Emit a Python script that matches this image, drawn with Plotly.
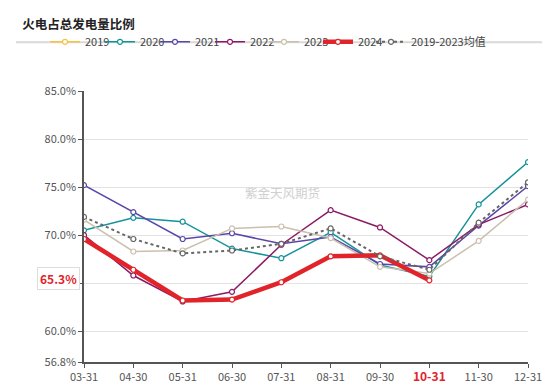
import plotly.graph_objects as go

dates = ["03-31", "04-30", "05-31", "06-30", "07-31", "08-31", "09-30", "10-31", "11-30", "12-31"]
y2019 = [None] * 10
y2020 = [70.5, 71.8, 71.4, 68.6, 67.6, 70.3, 66.9, 65.7, 73.2, 77.6]
y2021 = [75.2, 72.4, 69.6, 70.2, 69.1, 69.8, 67.0, 66.7, 71.0, 75.1]
y2022 = [70.0, 65.8, 63.1, 64.1, 69.0, 72.6, 70.8, 67.4, 71.1, 73.2]
y2023 = [71.6, 68.3, 68.4, 70.7, 70.9, 69.7, 66.7, 66.0, 69.4, 73.7]
y2024 = [69.6, 66.4, 63.2, 63.3, 65.1, 67.8, 67.9, 65.3]
yavg = [71.9, 69.6, 68.1, 68.4, 69.1, 70.7, 67.8, 66.4, 71.3, 75.5]
ytickvals = [56.8, 60, 65, 70, 75, 80, 85]
yticktext = ["56.8%", "60.0%", "65.0%", "70.0%", "75.0%", "80.0%", "85.0%"]
highlight_date = "10-31"
highlight_value = 65.3

fig = go.Figure()

PLOT_L, PLOT_W = 76, 444
legend_centers = [72, 127, 182, 237, 291, 345, 398]
idx = [0]

def add(name, y, color, width=1.5, dash="solid", msize=5):
    i = idx[0]
    lname = "legend" if i == 0 else f"legend{i+1}"
    fig.add_trace(go.Scatter(
        x=dates[:len(y)], y=y, name=name, mode="lines+markers",
        line=dict(color=color, width=width, dash=dash),
        marker=dict(symbol="circle", size=msize, color="white",
                    line=dict(color=color, width=1.2)),
        legend=lname,
    ))
    fig.update_layout({lname: dict(
        orientation="h", x=(legend_centers[i] - 35 - PLOT_L) / PLOT_W, xanchor="left",
        y=1.235, yanchor="top", font=dict(size=11, color="#444"), itemwidth=30,
        bgcolor="rgba(0,0,0,0)")})
    idx[0] += 1

add("2019", y2019, "#F5C342")
add("2020", y2020, "#16939A")
add("2021", y2021, "#5A46A8")
add("2022", y2022, "#8C1A66")
add("2023", y2023, "#CBBFAE")
add("2024", y2024, "#E0242A", width=4.5)
add("2019-2023均值", yavg, "#666666", width=2, dash="dot")

ticktext = [f"<b><span style='color:#E0242A;font-size:12px'>{d}</span></b>" if d == highlight_date else d for d in dates]

fig.update_layout(
    width=550, height=388,
    margin=dict(l=76, r=30, t=83, b=20),
    paper_bgcolor="white", plot_bgcolor="white",
    font=dict(family="Noto Sans CJK SC, Noto Sans, sans-serif", size=11, color="#555"),
    title=dict(text="<b>火电占总发电量比例</b>", xref="container", x=0.026, xanchor="left",
               yref="container", y=0.958, yanchor="middle",
               font=dict(size=12.5, color="#222", family="Noto Sans CJK SC, sans-serif")),
    showlegend=True,
    xaxis=dict(type="category", categoryorder="array", categoryarray=dates,
               tickvals=dates, ticktext=ticktext, range=[0, len(dates) - 1],
               showgrid=False, showline=True, linecolor="#555", linewidth=1.5,
               ticks="outside", ticklen=4, tickcolor="#555",
               tickfont=dict(size=11, color="#555"), zeroline=False),
    yaxis=dict(range=[56.8, 85], tickvals=ytickvals, ticktext=yticktext,
               showgrid=True, gridcolor="#e3e3e3", gridwidth=1.2,
               showline=True, linecolor="#555", linewidth=1.5,
               ticks="outside", ticklen=4, tickcolor="#555",
               tickfont=dict(size=11, color="#555"), zeroline=False),
)

fig.add_shape(type="line", xref="paper", yref="paper", x0=-0.153, x1=1.05, y0=1.18, y1=1.18,
              line=dict(color="#d9d9d9", width=2))

fig.add_annotation(text="紫金天风期货", xref="paper", yref="paper", x=0.448, y=0.625,
                   showarrow=False, font=dict(size=12.5, color="#d0d0d0"))

fig.add_annotation(text=f"<b>{highlight_value:.1f}%</b>", xref="paper", yref="y", x=0, y=highlight_value,
                   xanchor="right", xshift=-4, yshift=2, showarrow=False,
                   font=dict(size=12, color="#E0242A"), bgcolor="white",
                   bordercolor="#dddddd", borderwidth=1, borderpad=2)

fig.write_html("out.html")
